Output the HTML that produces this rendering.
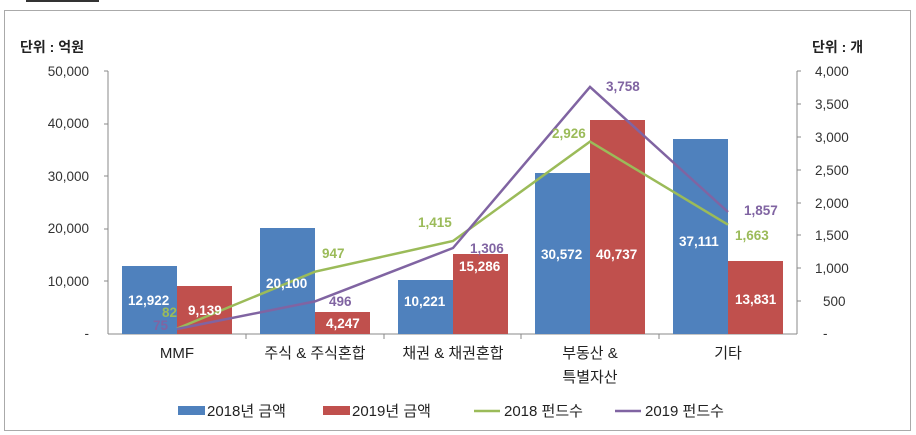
<!DOCTYPE html>
<html><head><meta charset="utf-8"><style>
body{margin:0;background:#fff;}
svg{display:block;font-family:"Liberation Sans","Noto Sans CJK KR",sans-serif;}
</style></head><body>
<svg width="916" height="435" viewBox="0 0 916 435">
<rect x="0" y="0" width="916" height="435" fill="#fff"/>
<line x1="26" y1="1" x2="99" y2="1" stroke="#333" stroke-width="2"/>
<rect x="4.5" y="10.5" width="906" height="420" fill="none" stroke="#aaa"/>
<text x="20" y="52" font-size="14" font-weight="bold" fill="#222">단위 : 억원</text>
<text x="812" y="52" font-size="14" font-weight="bold" fill="#222">단위 : 개</text>
<g font-size="13.5" fill="#333" text-anchor="end">
<text x="89" y="76">50,000</text><text x="89" y="128">40,000</text><text x="89" y="181">30,000</text>
<text x="89" y="233">20,000</text><text x="89" y="286">10,000</text><text x="89" y="338">-</text>
</g>
<g font-size="13.5" fill="#333">
<text x="815" y="76">4,000</text><text x="815" y="109">3,500</text><text x="815" y="142">3,000</text>
<text x="815" y="175">2,500</text><text x="815" y="208">2,000</text><text x="815" y="240">1,500</text>
<text x="815" y="273">1,000</text><text x="823" y="306">500</text><text x="823" y="338">-</text>
</g>
<g stroke="#888" stroke-width="1">
<line x1="108" y1="71" x2="108" y2="334"/><line x1="797" y1="71" x2="797" y2="334"/>
<line x1="104" y1="71" x2="108" y2="71"/><line x1="104" y1="124" x2="108" y2="124"/><line x1="104" y1="176" x2="108" y2="176"/><line x1="104" y1="229" x2="108" y2="229"/><line x1="104" y1="281" x2="108" y2="281"/>
<line x1="797" y1="71" x2="801" y2="71"/><line x1="797" y1="104" x2="801" y2="104"/><line x1="797" y1="137" x2="801" y2="137"/><line x1="797" y1="170" x2="801" y2="170"/><line x1="797" y1="203" x2="801" y2="203"/><line x1="797" y1="235" x2="801" y2="235"/><line x1="797" y1="268" x2="801" y2="268"/><line x1="797" y1="301" x2="801" y2="301"/>
<line x1="108" y1="334" x2="797" y2="334"/>
<line x1="246" y1="334" x2="246" y2="339"/><line x1="384" y1="334" x2="384" y2="339"/><line x1="521" y1="334" x2="521" y2="339"/><line x1="659" y1="334" x2="659" y2="339"/>
</g>
<g fill="#4f81bd">
<rect x="122" y="266" width="55" height="68"/><rect x="260" y="228" width="55" height="106"/>
<rect x="398" y="280" width="55" height="54"/><rect x="535" y="173" width="55" height="161"/>
<rect x="673" y="139" width="55" height="195"/>
</g>
<g fill="#c0504d">
<rect x="177" y="286" width="55" height="48"/><rect x="315" y="312" width="55" height="22"/>
<rect x="453" y="254" width="55" height="80"/><rect x="590" y="120" width="55" height="214"/>
<rect x="728" y="261" width="55" height="73"/>
</g>
<polyline points="177,328.6 315,271.7 453,241 590,141.6 728,224.7" fill="none" stroke="#9bbb59" stroke-width="2.5"/>
<polyline points="177,329 315,301.4 453,248 590,86.9 728,212" fill="none" stroke="#8064a2" stroke-width="2.5"/>
<g font-size="13.5" font-weight="bold" fill="#fff">
<text x="128" y="305">12,922</text><text x="188" y="315">9,139</text>
<text x="266" y="288">20,100</text><text x="326" y="328">4,247</text>
<text x="404" y="306">10,221</text><text x="459" y="271">15,286</text>
<text x="541" y="259">30,572</text><text x="596" y="259">40,737</text>
<text x="679" y="246">37,111</text><text x="735" y="304">13,831</text>
</g>
<g font-size="13.5" font-weight="bold">
<text x="162" y="317" fill="#9bbb59">82</text><text x="153" y="330" fill="#8064a2">75</text>
<text x="322" y="258" fill="#9bbb59">947</text><text x="329" y="306" fill="#8064a2">496</text>
<text x="418" y="227" fill="#9bbb59">1,415</text><text x="470" y="253" fill="#8064a2">1,306</text>
<text x="552" y="138" fill="#9bbb59">2,926</text><text x="606" y="91" fill="#8064a2">3,758</text>
<text x="735" y="240" fill="#9bbb59">1,663</text><text x="744" y="215" fill="#8064a2">1,857</text>
</g>
<g font-size="15" fill="#222" text-anchor="middle">
<text x="177" y="358">MMF</text><text x="315" y="358">주식 &amp; 주식혼합</text>
<text x="453" y="358">채권 &amp; 채권혼합</text><text x="590" y="358">부동산 &amp;</text>
<text x="590" y="382">특별자산</text><text x="728" y="358">기타</text>
</g>
<rect x="178" y="406" width="27" height="9" fill="#4f81bd"/>
<rect x="323" y="406" width="27" height="9" fill="#c0504d"/>
<line x1="474" y1="411" x2="500" y2="411" stroke="#9bbb59" stroke-width="2.5"/>
<line x1="615" y1="411" x2="641" y2="411" stroke="#8064a2" stroke-width="2.5"/>
<g font-size="15" fill="#222">
<text x="207" y="416">2018년 금액</text><text x="352" y="416">2019년 금액</text>
<text x="504" y="416">2018 펀드수</text><text x="645" y="416">2019 펀드수</text>
</g>
</svg>
</body></html>
